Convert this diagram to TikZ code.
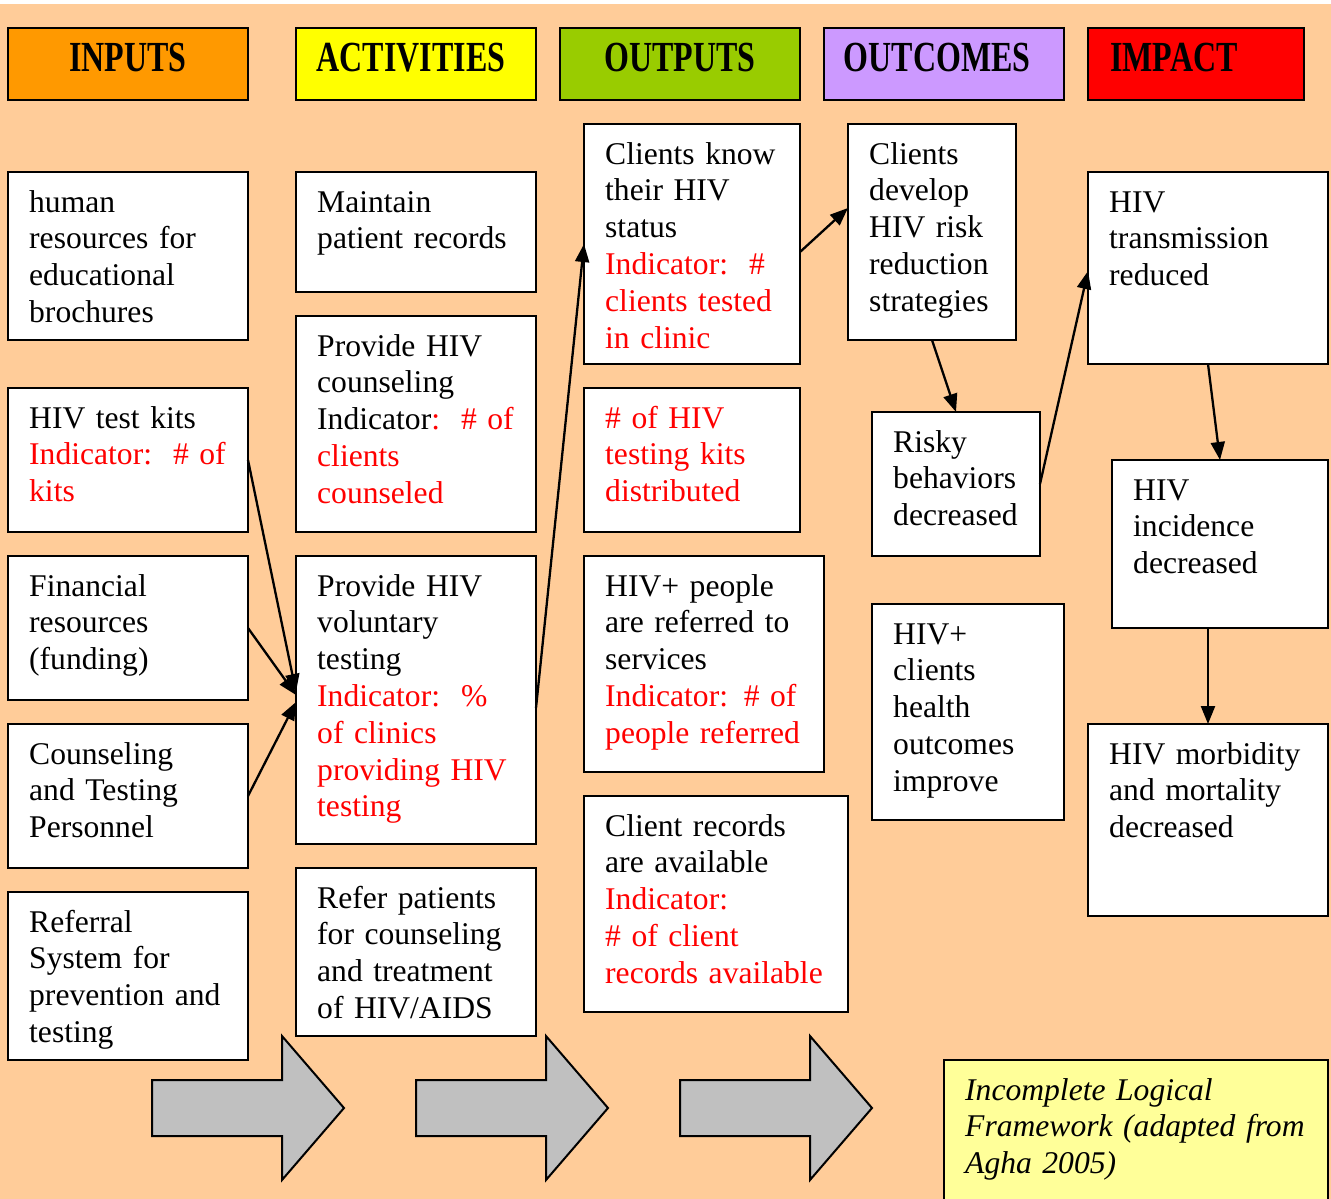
\documentclass[tikz,border=0pt]{standalone}
\usepackage{fontspec}
\setmainfont{Liberation Serif}
\usetikzlibrary{arrows.meta,calc}

\definecolor{peach}{HTML}{FFCC99}
\definecolor{inputsc}{HTML}{FF9900}
\definecolor{activc}{HTML}{FFFF00}
\definecolor{outputc}{HTML}{99CC00}
\definecolor{outcomec}{HTML}{CC99FF}
\definecolor{impactc}{HTML}{FF0000}
\definecolor{notec}{HTML}{FFFF99}
\definecolor{blockgray}{HTML}{C0C0C0}

% framed text box: name, left x, top y, width, height, text
\newcommand\infobox[6]{%
  \node[box, minimum width=#4pt, minimum height=#5pt] (#1) at (#2,#3) {};
  \node[body] (#1-t) at (#2+21,#3+14.2) {\strut #6};}

% column heading text, stretched vertically
\newcommand\headtext[1]{\scalebox{1}[1.34]{#1}}

\begin{document}
\begin{tikzpicture}[x=1pt,y=-1pt,
  box/.style={draw=black, line width=2pt, fill=white, inner sep=0pt, outer sep=0pt, anchor=north west},
  head/.style={box, minimum height=72pt},
  headlabel/.style={anchor=base, inner sep=0pt, font=\fontsize{32}{36}\selectfont\bfseries},
  body/.style={anchor=north west, inner sep=0pt, text width=600pt, align=left, font=\fontsize{31.6}{36.8}\selectfont},
  conn/.style={line width=2.3pt, -{Triangle[length=18pt,width=14pt]}},
  block/.style={draw=black, line width=2pt, fill=blockgray, line join=miter}
]
\useasboundingbox (0,0) rectangle (1331,1199);
\fill[peach] (0,4) rectangle (1331,1199);

% headings
\node[head, fill=inputsc,  minimum width=240pt] (hin)  at (8,28) {};
\node[head, fill=activc,   minimum width=240pt] (hact) at (296,28) {};
\node[head, fill=outputc,  minimum width=240pt] (hout) at (560,28) {};
\node[head, fill=outcomec, minimum width=240pt] (hoc)  at (824,28) {};
\node[head, fill=impactc,  minimum width=216pt] (himp) at (1088,28) {};
\node[headlabel] (hin-t)  at (128,72)  {\headtext{INPUTS}};
\node[headlabel] (hact-t) at (411,72)  {\headtext{ACTIVITIES}};
\node[headlabel] (hout-t) at (680,72)  {\headtext{OUTPUTS}};
\node[headlabel] (hoc-t)  at (937,72)  {\headtext{OUTCOMES}};
\node[headlabel] (himp-t) at (1174,72) {\headtext{IMPACT}};

% inputs
\infobox{brochures}{8}{172}{240}{168}{human\\resources for\\educational\\brochures}
\infobox{kits}{8}{388}{240}{144}{HIV test kits\\\color{red}Indicator:\ \ \# of\\kits}
\infobox{funding}{8}{556}{240}{144}{Financial\\resources\\(funding)}
\infobox{staff}{8}{724}{240}{144}{Counseling\\and Testing\\Personnel}
\infobox{referral}{8}{892}{240}{168}{Referral\\System for\\prevention and\\testing}

% activities
\infobox{records}{296}{172}{240}{120}{Maintain\\patient records}
\infobox{counsel}{296}{316}{240}{216}{Provide HIV\\counseling\\Indicator\textcolor{red}{:\ \ \# of}\\\color{red}clients\\counseled}
\infobox{vtest}{296}{556}{240}{288}{Provide HIV\\voluntary\\testing\\\color{red}Indicator:\ \ \%\\of clinics\\providing HIV\\testing}
\infobox{refer}{296}{868}{240}{168}{Refer patients\\for counseling\\and treatment\\of HIV/AIDS}

% outputs
\infobox{know}{584}{124}{216}{240}{Clients know\\their HIV\\status\\\color{red}Indicator:\ \ \#\\clients tested\\in clinic}
\infobox{distrib}{584}{388}{216}{144}{\color{red}\# of HIV\\testing kits\\distributed}
\infobox{referred}{584}{556}{240}{216}{HIV+ people\\are referred to\\services\\\color{red}Indicator: \# of\\people referred}
\infobox{crecords}{584}{796}{264}{216}{Client records\\are available\\\color{red}Indicator:\\\# of client\\records available}

% outcomes
\infobox{develop}{848}{124}{168}{216}{Clients\\develop\\HIV risk\\reduction\\strategies}
\infobox{risky}{872}{412}{168}{144}{Risky\\behaviors\\decreased}
\infobox{health}{872}{604}{192}{216}{HIV+\\clients\\health\\outcomes\\improve}

% impact
\infobox{trans}{1088}{172}{240}{192}{HIV\\transmission\\reduced}
\infobox{incid}{1112}{460}{216}{168}{HIV\\incidence\\decreased}
\infobox{morb}{1088}{724}{240}{192}{HIV morbidity\\and mortality\\decreased}

% note
\node[box, fill=notec, minimum width=384pt, minimum height=142pt] (note) at (944,1060) {};
\node[body] (note-t) at (965,1074.2) {\itshape\strut Incomplete Logical\\Framework (adapted from\\Agha 2005)};

% connectors
\draw[conn] (kits.east) -- ([yshift=8pt]vtest.west);
\draw[conn] (funding.east) -- ([yshift=5pt]vtest.west);
\draw[conn] (staff.east) -- ([yshift=-2pt]vtest.west);
\draw[conn] ([yshift=-8pt]vtest.east) -- (know.west);
\draw[conn] ([yshift=-8pt]know.east) -- ([yshift=24pt]develop.west);
\draw[conn] (develop.south) -- (risky.north);
\draw[conn] (risky.east) -- ([yshift=-3pt]trans.west);
\draw[conn] (trans.south) -- (incid.north);
\draw[conn] ([xshift=-12pt]incid.south) -- (morb.north);

% flow arrows along the bottom
\foreach \dx in {0,264,528}{
  \draw[block] (152+\dx,1080) -- (282+\dx,1080) -- (282+\dx,1036) -- (344+\dx,1108)
    -- (282+\dx,1180) -- (282+\dx,1136) -- (152+\dx,1136) -- cycle;
}
\end{tikzpicture}
\end{document}
